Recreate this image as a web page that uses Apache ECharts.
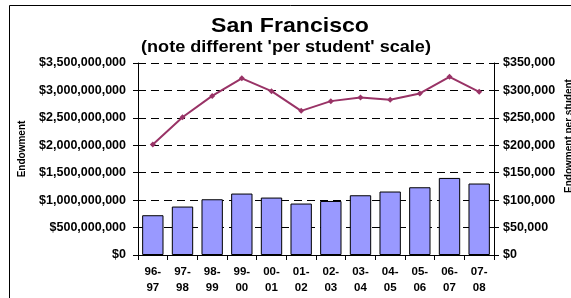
<!DOCTYPE html>
<html>
<head>
<meta charset="utf-8">
<script src="https://cdn.jsdelivr.net/npm/echarts@6/dist/echarts.min.js"></script>
<style>
  html, body { margin: 0; padding: 0; background: #fff; }
  #chart { width: 571px; height: 298px; }
</style>
</head>
<body>
<div id="chart"></div>
<script>
// school years
var years = ['96-97', '97-98', '98-99', '99-00', '00-01', '01-02', '02-03', '03-04', '04-05', '05-06', '06-07', '07-08'];
// total endowment, $
var endowment = [725e6, 883e6, 1016e6, 1120e6, 1047e6, 938e6, 985e6, 1089e6, 1157e6, 1235e6, 1405e6, 1303e6];
// endowment per student, $
var perStudent = [201500, 251000, 290000, 322000, 298700, 262800, 280500, 287000, 283000, 294500, 324800, 297500];

var font = 'Liberation Sans, Arial, sans-serif';

function money(v) {
  return '$' + String(Math.round(v)).replace(/\B(?=(\d{3})+(?!\d))/g, ',');
}

var chart = echarts.init(document.getElementById('chart'));

var dashed = { show: true, lineStyle: { color: '#000', type: [8, 5], width: 1 } };

chart.setOption({
  animation: false,
  textStyle: { fontFamily: font },
  grid: { left: 138, right: 77, top: 63, bottom: 43 },
  graphic: [
    { type: 'rect', shape: { x: 9.5, y: 5.5, width: 700, height: 400 },
      style: { fill: 'none', stroke: '#000', lineWidth: 1 }, silent: true },
    { type: 'text', x: 290, y: 26, scaleX: 1.1, style: { text: 'San Francisco', font: 'bold 21px ' + font,
      fill: '#000', align: 'center', verticalAlign: 'middle' } },
    { type: 'text', x: 286, y: 48, scaleX: 1.13, style: { text: "(note different 'per student' scale)", font: 'bold 16px ' + font,
      fill: '#000', align: 'center', verticalAlign: 'middle' } },
    { type: 'text', x: 22, y: 149, rotation: Math.PI / 2, style: { text: 'Endowment', font: 'bold 10px ' + font,
      fill: '#000', align: 'center', verticalAlign: 'middle' } },
    { type: 'text', x: 569, y: 136, rotation: Math.PI / 2, style: { text: 'Endowment per student', font: 'bold 10px ' + font,
      fill: '#000', align: 'center', verticalAlign: 'middle' } }
  ],
  xAxis: {
    type: 'category',
    data: years,
    axisLine: { lineStyle: { color: '#000', width: 1 } },
    axisTick: { show: true, length: 5, lineStyle: { color: '#000' } },
    axisLabel: {
      color: '#000', fontWeight: 'bold', fontSize: 11.5, lineHeight: 16, margin: 9,
      formatter: function (v) { return v.replace('-', '-\n'); }
    }
  },
  yAxis: [
    {
      type: 'value', min: 0, max: 3.5e9, interval: 5e8,
      axisLine: { show: true, lineStyle: { color: '#000' } },
      axisTick: { show: true, length: 5, lineStyle: { color: '#000' } },
      axisLabel: { color: '#000', fontWeight: 'bold', fontSize: 12.5, margin: 12, formatter: money },
      splitLine: dashed
    },
    {
      type: 'value', min: 0, max: 350000, interval: 50000,
      axisLine: { show: true, lineStyle: { color: '#000' } },
      axisTick: { show: true, length: 5, lineStyle: { color: '#000' } },
      axisLabel: { color: '#000', fontWeight: 'bold', fontSize: 12.5, margin: 9, formatter: money },
      splitLine: { show: false }
    }
  ],
  series: [
    {
      name: 'Endowment', type: 'bar', yAxisIndex: 0, data: endowment,
      barCategoryGap: '28%',
      itemStyle: { color: '#9999ff', borderColor: '#000', borderWidth: 1 }
    },
    {
      name: 'Endowment per student', type: 'line', yAxisIndex: 1, data: perStudent,
      symbol: 'diamond', symbolSize: 6,
      lineStyle: { color: '#993366', width: 2 },
      itemStyle: { color: '#993366' }
    }
  ]
});
</script>
</body>
</html>
